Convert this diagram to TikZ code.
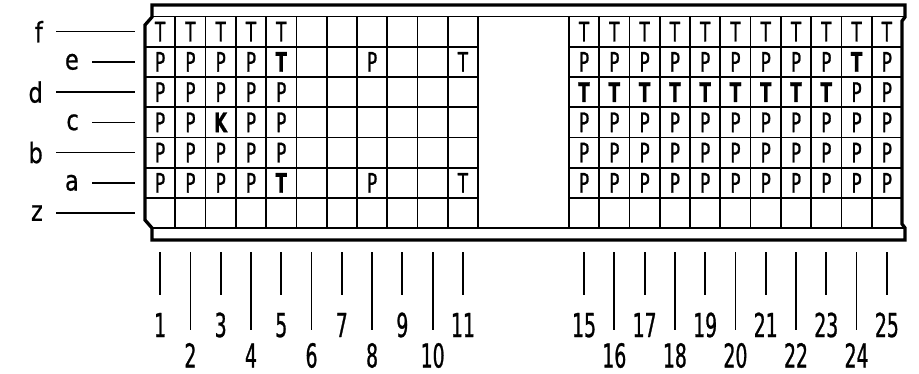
\documentclass[tikz,border=0pt]{standalone}
\usepackage{fontspec}
\setmainfont{DejaVu Sans}[FakeStretch=0.8,FakeBold=0.8]
\newfontfamily\cellfont{DejaVu Sans}[FakeStretch=0.62,FakeBold=0.8]
\newfontfamily\numfont{DejaVu Sans}[FakeStretch=0.57,FakeBold=0.8]
\usetikzlibrary{positioning}

\begin{document}
\begin{tikzpicture}[x=1pt,y=-1pt,
frame/.style={line width=3.3pt,line join=miter},
gridline/.style={line width=1.7pt},
cell/.style={inner sep=0pt,font=\cellfont\fontsize{27}{27}\selectfont},
boldcell/.style={cell,font=\cellfont\fontsize{27}{27}\selectfont\bfseries},
rowlbl/.style={inner sep=0pt,anchor=east,font=\fontsize{28}{28}\selectfont},
num/.style={inner sep=0pt,anchor=base,font=\numfont\fontsize{33}{33}\selectfont},
tick/.style={line width=1.8pt}
]
\useasboundingbox (0,0) rectangle (919,373);

% outer frame with chamfered sides
\draw[frame] (152,5) -- (905,5) -- (905,17) -- (902,21) -- (902,224) -- (905,228)
  -- (905,240) -- (152,240) -- (152,228) -- (145,220) -- (145,25) -- (152,17) -- cycle;
\draw[gridline] (152,16.5) -- (905,16.5);
\draw[gridline] (152,228.25) -- (905,228.25);

% grid of the two blocks
\foreach \i in {1,...,11,14,15,...,24}
  \draw[gridline] ({145+\i*30.28},16.5) -- ({145+\i*30.28},228.25);
\foreach \k in {1,...,6} {
  \draw[gridline] (145,{16.5+\k*30.25}) -- (478.1,{16.5+\k*30.25});
  \draw[gridline] (568.9,{16.5+\k*30.25}) -- (902,{16.5+\k*30.25});
}

% cell contents
\foreach \c in {1,...,5,15,16,...,25}
  \node[cell] (f-\c) at ({145+(\c-0.5)*30.28},{16.5+0.5*30.25}) {T};
\foreach \r/\cols in {1/{1,2,3,4,8,15,16,...,23,25},2/{1,...,5,24,25},
  3/{1,2,4,5,15,16,...,25},4/{1,...,5,15,16,...,25},5/{1,...,4,8,15,16,...,25}}
  \foreach \c in \cols
    \node[cell] (p-\r-\c) at ({145+(\c-0.5)*30.28},{16.5+(\r+0.5)*30.25}) {P};
\foreach \r/\c in {1/11,5/11}
  \node[cell] (t-\r-\c) at ({145+(\c-0.5)*30.28},{16.5+(\r+0.5)*30.25}) {T};
\foreach \r/\c/\t in {1/5/T,1/24/T,5/5/T,3/3/K,2/15/T,2/16/T,2/17/T,2/18/T,
  2/19/T,2/20/T,2/21/T,2/22/T,2/23/T}
  \node[boldcell] (b-\r-\c) at ({145+(\c-0.5)*30.28},{16.5+(\r+0.5)*30.25}) {\t};

% row labels
\foreach \r/\l/\s in {0/f/56,1/e/92,2/d/56,3/c/92,4/b/56,5/a/92,6/z/56} {
  \coordinate (s-\l) at (\s,{16.5+(\r+0.5)*30.25});
  \coordinate (e-\l) at (135,{16.5+(\r+0.5)*30.25});
  \node[rowlbl] (lbl-\l) at ({\s-13},{16.5+(\r+0.5)*30.25}) {\l};
  \draw[gridline] (s-\l) -- (e-\l);
}

% column ticks and numbers
\foreach \c in {1,3,...,11,15,17,...,25} {
  \coordinate (tt-\c) at ({145+(\c-0.5)*30.28},252);
  \coordinate (tb-\c) at ({145+(\c-0.5)*30.28},295);
  \draw[tick] (tt-\c) -- (tb-\c);
  \node[num] (n-\c) at ({145+(\c-0.5)*30.28},337) {\c};
}
\foreach \c in {2,4,...,10,16,18,...,24} {
  \coordinate (tt-\c) at ({145+(\c-0.5)*30.28},252);
  \coordinate (tb-\c) at ({145+(\c-0.5)*30.28},330);
  \draw[tick] (tt-\c) -- (tb-\c);
  \node[num] (n-\c) at ({145+(\c-0.5)*30.28},367.5) {\c};
}
\end{tikzpicture}
\end{document}
